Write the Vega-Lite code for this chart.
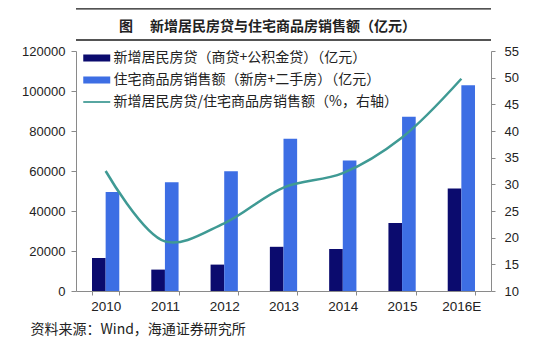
{
  "$schema": "https://vega.github.io/schema/vega-lite/v6.json",
  "autosize": {"type": "none"},
  "width": 415,
  "height": 240,
  "padding": {"left": 76, "top": 51, "right": 64, "bottom": 72},
  "background": "white",
  "config": {
    "view": {"stroke": null},
    "font": "Liberation Sans"
  },
  "title": {
    "text": "图　 新增居民房贷与住宅商品房销售额（亿元）",
    "font": "Noto Sans CJK SC",
    "fontSize": 14,
    "fontWeight": "bold",
    "color": "#222222",
    "anchor": "middle",
    "frame": "group",
    "baseline": "alphabetic",
    "offset": -37,
    "dx": -16
  },
  "datasets": {
    "bars": [
      {"year": "2010", "series": "新增居民房贷（商贷+公积金贷）（亿元）", "value": 16500},
      {"year": "2011", "series": "新增居民房贷（商贷+公积金贷）（亿元）", "value": 10700},
      {"year": "2012", "series": "新增居民房贷（商贷+公积金贷）（亿元）", "value": 13200},
      {"year": "2013", "series": "新增居民房贷（商贷+公积金贷）（亿元）", "value": 22100},
      {"year": "2014", "series": "新增居民房贷（商贷+公积金贷）（亿元）", "value": 21000},
      {"year": "2015", "series": "新增居民房贷（商贷+公积金贷）（亿元）", "value": 34000},
      {"year": "2016E", "series": "新增居民房贷（商贷+公积金贷）（亿元）", "value": 51300},
      {"year": "2010", "series": "住宅商品房销售额（新房+二手房）（亿元）", "value": 49500},
      {"year": "2011", "series": "住宅商品房销售额（新房+二手房）（亿元）", "value": 54400},
      {"year": "2012", "series": "住宅商品房销售额（新房+二手房）（亿元）", "value": 59900},
      {"year": "2013", "series": "住宅商品房销售额（新房+二手房）（亿元）", "value": 76100},
      {"year": "2014", "series": "住宅商品房销售额（新房+二手房）（亿元）", "value": 65300},
      {"year": "2015", "series": "住宅商品房销售额（新房+二手房）（亿元）", "value": 87100},
      {"year": "2016E", "series": "住宅商品房销售额（新房+二手房）（亿元）", "value": 102900}
    ],
    "ratio": [
      {"year": "2010", "series": "新增居民房贷/住宅商品房销售额（%，右轴）", "pct": 32.5},
      {"year": "2011", "series": "新增居民房贷/住宅商品房销售额（%，右轴）", "pct": 19.3},
      {"year": "2012", "series": "新增居民房贷/住宅商品房销售额（%，右轴）", "pct": 22.7},
      {"year": "2013", "series": "新增居民房贷/住宅商品房销售额（%，右轴）", "pct": 29.4},
      {"year": "2014", "series": "新增居民房贷/住宅商品房销售额（%，右轴）", "pct": 32.1},
      {"year": "2015", "series": "新增居民房贷/住宅商品房销售额（%，右轴）", "pct": 38.8},
      {"year": "2016E", "series": "新增居民房贷/住宅商品房销售额（%，右轴）", "pct": 49.8}
    ],
    "frame": [
      {"edge": "upper", "pos": 62.9},
      {"edge": "lower", "pos": 57.06}
    ]
  },
  "layer": [
    {
      "data": {"name": "bars"},
      "mark": {"type": "bar"},
      "encoding": {
        "x": {
          "field": "year",
          "type": "nominal",
          "sort": null,
          "scale": {"paddingInner": 0.54, "paddingOuter": 0.27},
          "axis": {
            "title": "资料来源：Wind，海通证券研究所",
            "titleFont": "Noto Sans CJK SC",
            "titleFontSize": 14,
            "titleFontWeight": "normal",
            "titleColor": "#222222",
            "titleAnchor": "start",
            "titleAlign": "left",
            "titleBaseline": "middle",
            "titleX": -46,
            "titleY": 38,
            "labelAngle": 0,
            "labelFont": "Liberation Sans",
            "labelFontSize": 13.5,
            "labelColor": "#222222",
            "labelPadding": 4,
            "domainColor": "#8a8a8a",
            "tickColor": "#8a8a8a",
            "tickSize": 4,
            "tickBand": "extent",
            "grid": false
          }
        },
        "xOffset": {
          "field": "series",
          "type": "nominal",
          "sort": null,
          "scale": {"domain": ["新增居民房贷（商贷+公积金贷）（亿元）", "住宅商品房销售额（新房+二手房）（亿元）"], "paddingInner": 0, "paddingOuter": 0}
        },
        "y": {
          "field": "value",
          "type": "quantitative",
          "scale": {"domain": [0, 120000], "nice": false},
          "axis": {
            "title": null,
            "orient": "left",
            "values": [0, 20000, 40000, 60000, 80000, 100000, 120000],
            "format": "d",
            "labelFont": "Liberation Sans",
            "labelFontSize": 13,
            "labelColor": "#222222",
            "labelPadding": 6,
            "tickSize": 5,
            "tickColor": "#8a8a8a",
            "domainColor": "#8a8a8a",
            "grid": false
          }
        },
        "color": {
          "field": "series",
          "type": "nominal",
          "scale": {
            "domain": ["新增居民房贷（商贷+公积金贷）（亿元）", "住宅商品房销售额（新房+二手房）（亿元）", "新增居民房贷/住宅商品房销售额（%，右轴）"],
            "range": ["#0b0b6e", "#3d6ee4", "#3f9a94"]
          },
          "legend": {
            "title": null,
            "orient": "none",
            "legendX": 7,
            "legendY": 0,
            "direction": "vertical",
            "padding": 0,
            "symbolType": "M-1,-0.52H3V0.52H-1Z",
            "symbolSize": 182,
            "labelOffset": 16.5,
            "labelFont": "Noto Sans CJK SC",
            "labelFontSize": 14,
            "labelColor": "#222222",
            "labelLimit": 400,
            "rowPadding": 8,
            "encode": {
              "symbols": {
                "update": {
                  "shape": {"signal": "datum.value === '新增居民房贷/住宅商品房销售额（%，右轴）' ? 'M-1,-0.13H3V0.13H-1Z' : 'M-1,-0.52H3V0.52H-1Z'"},
                  "fill": {"scale": "color", "field": "value"},
                  "strokeWidth": {"value": 0},
                  "opacity": {"value": 1}
                }
              }
            }
          }
        }
      }
    },
    {
      "data": {"name": "ratio"},
      "mark": {"type": "line", "interpolate": "catmull-rom", "strokeWidth": 2.5},
      "encoding": {
        "x": {"field": "year", "type": "nominal", "sort": null},
        "y": {
          "field": "pct",
          "type": "quantitative",
          "scale": {"domain": [10, 55], "nice": false, "zero": false},
          "axis": {
            "title": null,
            "orient": "right",
            "values": [10, 15, 20, 25, 30, 35, 40, 45, 50, 55],
            "labelFont": "Liberation Sans",
            "labelFontSize": 13,
            "labelColor": "#222222",
            "labelPadding": 9,
            "tickSize": 4,
            "tickColor": "#8a8a8a",
            "domainColor": "#8a8a8a",
            "grid": false
          }
        },
        "color": {"field": "series", "type": "nominal"}
      }
    },
    {
      "data": {"name": "frame"},
      "mark": {"type": "rule", "color": "#1a1a1a", "strokeWidth": 1.4},
      "encoding": {
        "y": {"field": "pos", "type": "quantitative", "scale": {"domain": [10, 55], "nice": false, "zero": false}, "axis": null}
      }
    }
  ],
  "resolve": {"scale": {"y": "independent"}}
}
